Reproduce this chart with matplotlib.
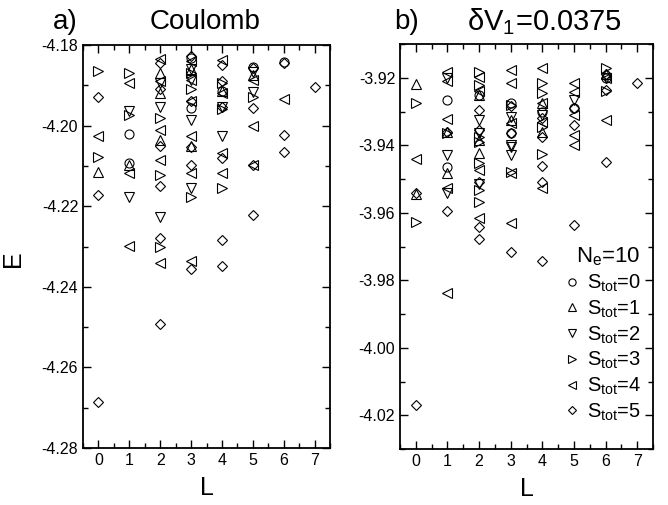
import numpy as np
import matplotlib.pyplot as plt
from matplotlib.ticker import MultipleLocator, FormatStrFormatter

plt.rcParams['font.family'] = ['Liberation Sans', 'DejaVu Sans']
plt.rcParams['mathtext.fontset'] = 'custom'
plt.rcParams['mathtext.rm'] = 'Liberation Sans'
plt.rcParams['mathtext.it'] = 'Liberation Sans'

# ---- panel a) Coulomb : (L, E) per S_tot ----
coul_s0 = [(1, -4.2020), (1, -4.2092), (3, -4.1957), (3, -4.1832), (4, -4.1915),
           (5, -4.1854), (6, -4.1843)]
coul_s1 = [(0, -4.2116), (1, -4.2097), (2, -4.1870), (2, -4.1920), (2, -4.2035),
           (3, -4.1860), (3, -4.2050), (4, -4.1915), (5, -4.1875)]
coul_s2 = [(1, -4.1965), (1, -4.2176), (2, -4.1895), (2, -4.1955), (2, -4.2228),
           (3, -4.1860), (3, -4.1887), (3, -4.1986), (3, -4.2154), (4, -4.1955),
           (4, -4.2027), (5, -4.1866), (5, -4.1916)]
coul_s3 = [(0, -4.1864), (0, -4.2078), (1, -4.1870), (1, -4.1973), (2, -4.1980),
           (2, -4.2122), (2, -4.2302), (3, -4.1870), (3, -4.1910), (3, -4.2176),
           (4, -4.1895), (4, -4.1960), (4, -4.2156), (5, -4.1930)]
coul_s4 = [(0, -4.2025), (1, -4.1895), (1, -4.2117), (1, -4.2299), (2, -4.1835),
           (2, -4.1890), (2, -4.2010), (2, -4.2086), (2, -4.2342), (3, -4.1840),
           (3, -4.1887), (3, -4.1940), (3, -4.2027), (3, -4.2117), (3, -4.2337),
           (4, -4.1837), (4, -4.1920), (4, -4.2067), (4, -4.2117), (5, -4.1887),
           (5, -4.2002), (5, -4.2097), (6, -4.1935)]
coul_s5 = [(0, -4.1929), (0, -4.2171), (0, -4.2685), (2, -4.1845), (2, -4.1910),
           (2, -4.2050), (2, -4.2149), (2, -4.2280), (2, -4.2493), (3, -4.1828),
           (3, -4.1940), (3, -4.2052), (3, -4.2097), (3, -4.2355), (4, -4.1850),
           (4, -4.1890), (4, -4.1953), (4, -4.2080), (4, -4.2283), (4, -4.2349),
           (5, -4.1857), (5, -4.1957), (5, -4.2097), (5, -4.2221), (6, -4.1845),
           (6, -4.2023), (6, -4.2065), (7, -4.1903)]

# ---- panel b) dV1 = 0.0375 ----
dv_s0 = [(1, -3.9266), (1, -3.9464), (2, -3.9250), (3, -3.9276), (3, -3.9365),
         (4, -3.9300), (5, -3.9290), (6, -3.9200)]
dv_s1 = [(0, -3.9219), (0, -3.9545), (1, -3.9360), (1, -3.9482), (2, -3.9250),
         (2, -3.9385), (2, -3.9423), (3, -3.9325), (4, -3.9275), (4, -3.9360),
         (6, -3.9190)]
dv_s2 = [(1, -3.9200), (1, -3.9429), (1, -3.9542), (2, -3.9325), (2, -3.9365),
         (2, -3.9514), (3, -3.9316), (3, -3.9399), (3, -3.9405), (3, -3.9429),
         (4, -3.9310), (5, -3.9266), (6, -3.9200)]
dv_s3 = [(0, -3.9276), (0, -3.9627), (1, -3.9365), (2, -3.9182), (2, -3.9221),
         (2, -3.9376), (2, -3.9390), (2, -3.9453), (2, -3.9533), (2, -3.9568),
         (3, -3.9280), (3, -3.9480), (4, -3.9216), (4, -3.9245), (4, -3.9346),
         (4, -3.9426), (6, -3.9171), (6, -3.9238)]
dv_s4 = [(0, -3.9441), (1, -3.9182), (1, -3.9210), (1, -3.9322), (1, -3.9527),
         (1, -3.9838), (2, -3.9197), (2, -3.9240), (2, -3.9473), (2, -3.9616),
         (3, -3.9177), (3, -3.9216), (3, -3.9334), (3, -3.9482), (3, -3.9630),
         (4, -3.9171), (4, -3.9275), (4, -3.9330), (4, -3.9526), (5, -3.9216),
         (5, -3.9242), (5, -3.9310), (5, -3.9370), (5, -3.9399), (6, -3.9200),
         (6, -3.9325)]
dv_s5 = [(0, -3.9540), (0, -4.0170), (1, -3.9360), (1, -3.9595), (2, -3.9296),
         (2, -3.9355), (2, -3.9510), (2, -3.9642), (2, -3.9678), (3, -3.9285),
         (3, -3.9365), (3, -3.9715), (4, -3.9320), (4, -3.9375), (4, -3.9461),
         (4, -3.9508), (4, -3.9742), (5, -3.9290), (5, -3.9340), (5, -3.9636),
         (6, -3.9190), (6, -3.9235), (6, -3.9449), (7, -3.9216)]

markers = ['o', '^', 'v', '>', '<', 'D']
msizes = [6.5, 6.5, 6.5, 6.5, 6.5, 5]
labels = ['S$_{\\rm tot}$=%d' % s for s in range(6)]

fig = plt.figure(figsize=(6.68, 5.05), dpi=100)
W, H = 668., 505.
ax1 = fig.add_axes([83/W, 1-448/H, 247/W, 403/H])
ax2 = fig.add_axes([400/W, 1-449/H, 253/W, 405/H])


def draw(ax, sets, ylim, ymaj):
    for s, pts in enumerate(sets):
        L = [p[0] for p in pts]
        E = [p[1] for p in pts]
        ax.plot(L, E, linestyle='none', marker=markers[s], ms=msizes[s],
                mfc='none', mec='black', mew=0.8, label=labels[s])
    ax.set_xlim(-0.5, 7.5)
    ax.set_ylim(*ylim)
    ax.xaxis.set_major_locator(MultipleLocator(1))
    ax.xaxis.set_minor_locator(MultipleLocator(0.5))
    ax.yaxis.set_major_locator(MultipleLocator(ymaj))
    ax.yaxis.set_minor_locator(MultipleLocator(ymaj/2))
    ax.yaxis.set_major_formatter(FormatStrFormatter('%.2f'))
    ax.tick_params(which='both', direction='in', top=True, right=True, labelsize=11.5)
    ax.tick_params(which='major', length=6, width=1)
    ax.tick_params(which='minor', length=3.5, width=1)
    for sp in ax.spines.values():
        sp.set_linewidth(1.3)
    ax.set_xlabel('L', fontsize=18, labelpad=6)


draw(ax1, [coul_s0, coul_s1, coul_s2, coul_s3, coul_s4, coul_s5], (-4.28, -4.18), 0.02)
draw(ax2, [dv_s0, dv_s1, dv_s2, dv_s3, dv_s4, dv_s5], (-4.03, -3.91), 0.02)
ax1.set_ylabel('E', fontsize=18)
ax1.yaxis.set_label_coords(-0.235, 0.47)

leg = ax2.legend(loc='lower right', bbox_to_anchor=(1.0, 0.035), frameon=False,
                 fontsize=14.5, handlelength=0.8, handletextpad=0.35,
                 labelspacing=0.22, markerscale=0.8, borderaxespad=0.2,
                 title='N$_{\\rm e}$=10', title_fontsize=16)
leg._legend_box.align = 'right'

fig.text(65/W, 1-22/H, 'a)', fontsize=20, ha='center', va='center')
fig.text(205/W, 1-22/H, 'Coulomb', fontsize=20, ha='center', va='center')
fig.text(407/W, 1-22/H, 'b)', fontsize=20, ha='center', va='center')
fig.text(545/W, 1-22/H, '\u03b4V$_1$=0.0375', fontsize=21, ha='center', va='center')

fig.savefig('out.png', dpi=100)
